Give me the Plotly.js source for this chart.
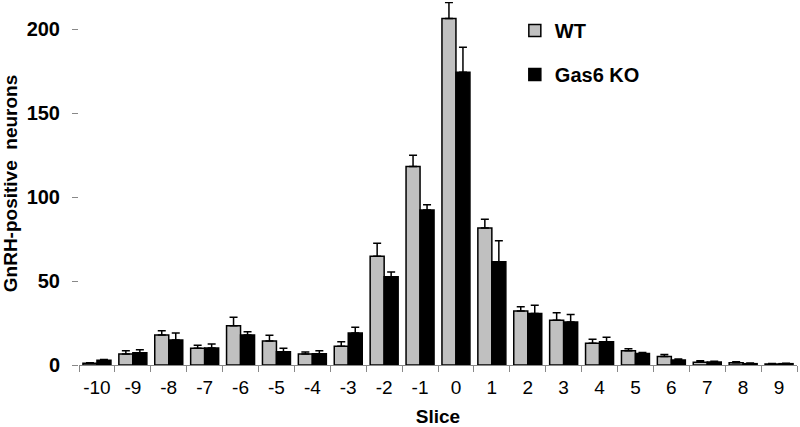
<!DOCTYPE html>
<html>
<head>
<meta charset="utf-8">
<script src="https://cdn.plot.ly/plotly-3.0.1.min.js"></script>
<style>html,body{margin:0;padding:0;background:#fff;}#chart{width:800px;height:427px;}</style>
</head>
<body>
<div id="chart"></div>
<script>
const slices = ['-10','-9','-8','-7','-6','-5','-4','-3','-2','-1','0','1','2','3','4','5','6','7','8','9'];
const wtValues = [1.0, 6.5, 17.9, 9.9, 23.4, 14.3, 6.5, 11.1, 64.7, 118.1, 206.3, 81.5, 32.1, 26.6, 12.9, 8.5, 5.0, 1.6, 1.4, 0.6];
const wtErrors = [0.3, 2.0, 2.5, 1.8, 5.0, 3.4, 1.2, 2.8, 7.7, 6.7, 9.4, 5.2, 2.6, 4.5, 2.4, 1.2, 1.3, 1.0, 0.6, 0.3];
const koValues = [2.8, 7.3, 14.9, 10.1, 17.9, 7.9, 6.7, 19.0, 52.6, 92.3, 174.2, 61.5, 30.6, 25.6, 13.9, 6.9, 3.0, 1.8, 0.8, 0.8];
const koErrors = [0.5, 1.8, 4.1, 2.4, 1.9, 2.0, 1.8, 3.4, 2.8, 3.1, 14.9, 12.5, 4.9, 4.4, 2.6, 0.6, 0.6, 0.4, 0.4, 0.3];
const zeros = slices.map(() => 0);

const FONT = 'Arial, "Liberation Sans", sans-serif';

const traces = [
  {
    type: 'bar', name: 'WT', x: slices, y: wtValues, legendgroup: 'a',
    marker: {color: '#c0c0c0', line: {color: '#000', width: 1.5}},
    error_y: {type: 'data', array: wtErrors, arrayminus: zeros, symmetric: false, color: '#000', thickness: 1.5, width: 4},
    cliponaxis: false
  },
  {
    type: 'bar', name: 'Gas6 KO', x: slices, y: koValues, legendgroup: 'b',
    marker: {color: '#000', line: {color: '#000', width: 1.5}},
    error_y: {type: 'data', array: koErrors, arrayminus: zeros, symmetric: false, color: '#000', thickness: 1.5, width: 4},
    cliponaxis: false
  }
];

const layout = {
  width: 800, height: 427,
  margin: {l: 79, r: 3, t: 2, b: 62},
  paper_bgcolor: '#fff', plot_bgcolor: '#fff',
  font: {family: FONT, color: '#000'},
  barmode: 'group', bargap: 0.22, bargroupgap: 0,
  showlegend: true,
  legend: {
    x: 0.607, y: 0.975, xanchor: 'left', yanchor: 'top',
    font: {size: 20, weight: 'bold', family: FONT},
    traceorder: 'grouped', tracegroupgap: 15,
    bgcolor: 'rgba(0,0,0,0)', itemwidth: 30
  },
  xaxis: {
    type: 'category', range: [-0.5, 19.5],
    showline: true, linecolor: '#888', linewidth: 1,
    ticks: 'outside', tickson: 'boundaries', ticklen: 6, tickcolor: '#888', tickwidth: 1,
    tickangle: 0, ticklabelstandoff: 5,
    tickfont: {size: 19, family: FONT},
    showgrid: false, zeroline: false,
    title: {text: 'Slice', font: {size: 19, weight: 'bold', family: FONT}, standoff: 12}
  },
  yaxis: {
    range: [0, 216.07],
    tickvals: [0, 50, 100, 150, 200],
    ticks: 'outside', ticklen: 6, tickcolor: '#888', tickwidth: 1,
    ticklabelstandoff: 8,
    tickfont: {size: 20, weight: 'bold', family: FONT},
    showline: false, showgrid: false, zeroline: false,
    title: {text: 'GnRH-positive&nbsp; neurons', font: {size: 19, weight: 'bold', family: FONT}, standoff: 6}
  },
  annotations: [
    {x: '-1', y: 96, xref: 'x', yref: 'y', text: '*', showarrow: false, xshift: 8, yanchor: 'bottom',
     font: {size: 30, weight: 'bold', family: FONT}}
  ]
};

Plotly.newPlot('chart', traces, layout, {displayModeBar: false, staticPlot: true});
</script>
</body>
</html>
